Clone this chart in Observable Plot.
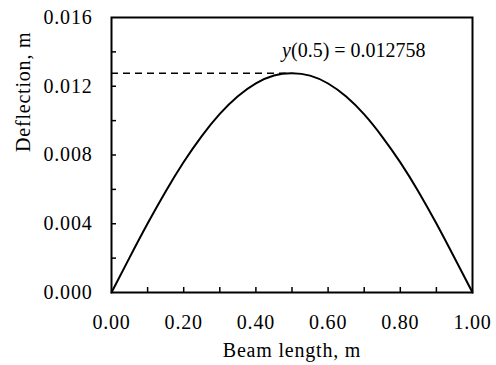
<!DOCTYPE html>
<html><head><meta charset="utf-8">
<script src="https://cdn.jsdelivr.net/npm/d3@7"></script>
<script src="https://cdn.jsdelivr.net/npm/@observablehq/plot@0.6"></script>
<style>body{margin:0;background:#fff}</style>
</head><body><div id="chart"></div>
<script>
const beamX = [0, 0.05, 0.1, 0.15, 0.2, 0.25, 0.3, 0.35, 0.4, 0.45, 0.5, 0.55, 0.6, 0.65, 0.7, 0.75, 0.8, 0.85, 0.9, 0.95, 1];
const deflection = [0, 0.00203, 0.00401, 0.00588, 0.00759, 0.0091, 0.01039, 0.01142, 0.01217, 0.01263, 0.012758, 0.01262, 0.01216, 0.0114, 0.01036, 0.00906, 0.00757, 0.00588, 0.00401, 0.00202, 0];
const peakX = 0.5;
const peakY = 0.012758;
const xTickValues = [0, 0.2, 0.4, 0.6, 0.8, 1];
const xMinorTicks = [0.1, 0.2, 0.3, 0.4, 0.5, 0.6, 0.7, 0.8, 0.9];
const yTickValues = [0, 0.004, 0.008, 0.012, 0.016];
const yMinorTicks = [0.002, 0.004, 0.006, 0.008, 0.01, 0.012, 0.014];
const xLabel = "Beam length, m";
const yLabel = "Deflection, m";

const data = beamX.map((x, i) => ({x, y: deflection[i]}));

const chart = Plot.plot({
  width: 496, height: 365,
  marginLeft: 111, marginRight: 24, marginTop: 17, marginBottom: 73,
  style: {fontFamily: "'Liberation Serif', 'Times New Roman', serif", fontSize: "20px", color: "black", background: "white"},
  x: {domain: [0, 1]},
  y: {domain: [0, 0.016]},
  marks: [
    Plot.axisX(xTickValues, {tickSize: 0, tickPadding: 22, tickFormat: d3.format(".2f"), fontSize: 20, label: null}),
    Plot.axisX(xMinorTicks, {tickSize: -5, text: null, label: null, strokeWidth: 1.5}),
    Plot.axisY(yTickValues, {tickSize: 0, tickPadding: 19, tickFormat: d3.format(".3f"), fontSize: 20, label: null}),
    Plot.axisY(yMinorTicks, {tickSize: -5, text: null, label: null, strokeWidth: 1.5}),
    Plot.ruleY([peakY], {x1: 0, x2: peakX, strokeDasharray: "7,5", strokeWidth: 1.5}),
    Plot.line(data, {x: "x", y: "y", curve: "natural", strokeWidth: 2}),
    Plot.frame({strokeWidth: 2}),
    Plot.text([peakY], {x: peakX, y: d => d, text: () => "y", fontStyle: "italic", textAnchor: "start", lineAnchor: "middle", dx: -10, dy: -22.4, fontSize: 20}),
    Plot.text([peakY], {x: peakX, y: d => d, text: d => `(${peakX}) = ${d}`, textAnchor: "start", lineAnchor: "middle", dx: -1, dy: -22.4, fontSize: 20}),
    Plot.text([xLabel], {text: d => d, frameAnchor: "bottom", dy: 57.7, lineAnchor: "middle", fontSize: 20}),
    Plot.text([yLabel], {text: d => d, frameAnchor: "left", dx: -96, dy: -3, rotate: -90, lineAnchor: "top", fontSize: 20})
  ]
});
d3.select(chart).selectAll("text").attr("letter-spacing", function() {
  return this.textContent.includes("=") ? "0px" : "0.8px";
});
document.getElementById("chart").appendChild(chart);
</script>
</body></html>
